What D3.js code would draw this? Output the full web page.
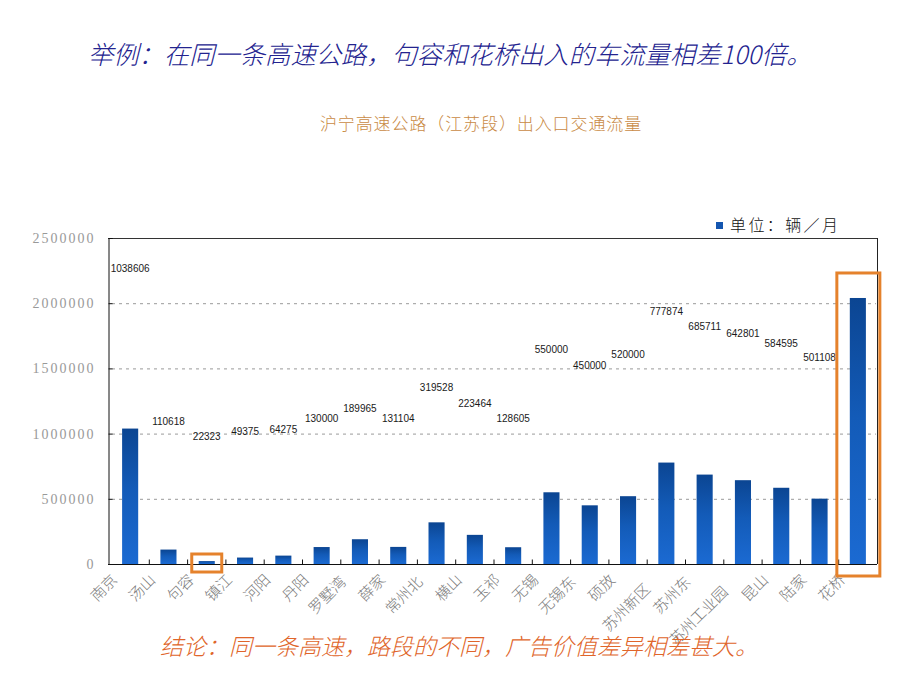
<!DOCTYPE html>
<html><head><meta charset="utf-8">
<script src="https://cdn.jsdelivr.net/npm/d3@7"></script>
<style>body{margin:0;background:#fff}svg{display:block}</style>
</head><body>
<svg id="c" width="920" height="690"></svg>
<script>
const categories = ["南京","汤山","句容","镇江","河阳","丹阳","罗墅湾","薛家","常州北","横山","玉祁","无锡","无锡东","硕放","苏州新区","苏州东","苏州工业园","昆山","陆家","花桥"];
const values = [1038606,110618,22323,49375,64275,130000,189965,131104,319528,223464,128605,550000,450000,520000,777874,685711,642801,584595,501108,2040000];
const dataLabels = ["1038606","110618","22323","49375","64275","130000","189965","131104","319528","223464","128605","550000","450000","520000","777874","685711","642801","584595","501108",""];
const yTicks = [0,500000,1000000,1500000,2000000,2500000];

const svg = d3.select("#c");
const cjk = "'Noto Sans CJK SC','Noto Sans',sans-serif";

const x = d3.scaleBand().domain(categories).range([111,877]).paddingInner(0.58).paddingOuter(0.29);
const y = d3.scaleLinear().domain([0,2500000]).range([564,238]);
const yLab = d3.scaleLinear().domain([0,1000000]).range([440,275]);

const defs = svg.append("defs");
const g = defs.append("linearGradient").attr("id","barG").attr("x1",0).attr("y1",0).attr("x2",0).attr("y2",1);
g.append("stop").attr("offset","0%").attr("stop-color","#0b4592");
g.append("stop").attr("offset","45%").attr("stop-color","#135bb8");
g.append("stop").attr("offset","100%").attr("stop-color","#1b6ad2");

// titles
svg.append("text").attr("x",88).attr("y",64).attr("font-family",cjk).attr("font-size",25.3).attr("font-weight",300)
  .attr("font-style","italic").attr("fill","#23238f").text("举例：在同一条高速公路，句容和花桥出入的车流量相差100倍。");
svg.append("text").attr("x",481).attr("y",130).attr("text-anchor","middle").attr("font-family",cjk).attr("font-weight",300)
  .attr("font-size",17).attr("letter-spacing","0.9px").attr("fill","#c98a44").text("沪宁高速公路（江苏段）出入口交通流量");

// gridlines
svg.append("g").selectAll("line").data(yTicks.filter(d=>d>0 && d<2500000)).join("line")
  .attr("x1",112).attr("x2",876).attr("y1",d=>y(d)+0.5).attr("y2",d=>y(d)+0.5)
  .attr("stroke","#9a9a9a").attr("stroke-dasharray","3,4");

// top and right border
svg.append("line").attr("x1",108).attr("x2",877).attr("y1",y(2500000)+0.5).attr("y2",y(2500000)+0.5).attr("stroke","#333");
svg.append("line").attr("x1",877.5).attr("x2",877.5).attr("y1",y(2500000)).attr("y2",y(0)).attr("stroke","#222");

// y axis
const yAxis = svg.append("g").attr("transform","translate(108.5,0)")
  .call(d3.axisLeft(y).tickValues(yTicks).tickSize(-4).tickPadding(13).tickFormat(d3.format("d")));
yAxis.select(".domain").attr("stroke","#111");
yAxis.selectAll(".tick line").attr("stroke","#111");
yAxis.selectAll("text").attr("font-family","'Liberation Serif','DejaVu Serif',serif").attr("font-size",14)
  .attr("fill","#999").attr("letter-spacing","2px");

// bars
svg.append("g").selectAll("rect").data(categories).join("rect")
  .attr("x",(d)=>x(d)).attr("width",x.bandwidth())
  .attr("y",(d,i)=>y(values[i])).attr("height",(d,i)=>y(0)-y(values[i]))
  .attr("fill","url(#barG)");

// x axis
const step = x.step();
const xAxis = svg.append("g").attr("transform",`translate(0,${y(0)+0.5})`);
xAxis.append("line").attr("x1",108).attr("x2",877).attr("stroke","#111");
xAxis.selectAll("line.t").data(categories.slice(0,-1)).join("line").attr("class","t")
  .attr("x1",d=>x(d)+x.bandwidth()/2+step/2).attr("x2",d=>x(d)+x.bandwidth()/2+step/2)
  .attr("y1",0).attr("y2",-5).attr("stroke","#111");

// x labels (rotated; longer labels sit lower, as in the source)
const drop = {2:0,3:2,4:9,5:12};
const shiftX = {2:12,3:13,4:15,5:14};
svg.append("g").selectAll("text").data(categories).join("text")
  .attr("transform",d=>{
    const cx = x(d)+x.bandwidth()/2;
    return `translate(${cx-shiftX[d.length]},${y(0)+17+drop[d.length]}) rotate(-45)`;
  })
  .attr("text-anchor","end").attr("font-family",cjk).attr("font-size",15).attr("font-weight",300)
  .attr("fill","#7a7a7a").text(d=>d);

// data labels
svg.append("g").selectAll("text").data(categories).join("text")
  .attr("x",d=>x(d)+x.bandwidth()/2).attr("y",(d,i)=>yLab(values[i]))
  .attr("dy","0.35em").attr("text-anchor","middle")
  .attr("font-family","'Liberation Sans',Arial,sans-serif").attr("font-size",10).attr("fill","#1a1a1a")
  .text((d,i)=>dataLabels[i]);

// legend
svg.append("rect").attr("x",716).attr("y",222).attr("width",7).attr("height",7).attr("fill","#1456b0");
svg.append("text").attr("x",730).attr("y",231).attr("font-family",cjk).attr("font-size",16).attr("font-weight",300)
  .attr("letter-spacing","2.4px").attr("fill","#111").text("单位：辆／月");

// highlight boxes
const hb = svg.append("g").attr("fill","none").attr("stroke","#e5822c").attr("stroke-width",3);
const c1 = x("句容")+x.bandwidth()/2;
hb.append("rect").attr("x",c1-15).attr("y",y(0)-10).attr("width",30).attr("height",18);
const c2 = x("花桥")+x.bandwidth()/2;
const v2 = values[categories.indexOf("花桥")];
hb.append("rect").attr("x",c2-21).attr("y",y(v2)-25).attr("width",43).attr("height",y(0)+12-(y(v2)-25));

// conclusion
svg.append("text").attr("x",160).attr("y",655).attr("font-family",cjk).attr("font-size",23).attr("font-weight",300)
  .attr("font-style","italic").attr("fill","#e0652a").text("结论：同一条高速，路段的不同，广告价值差异相差甚大。");
</script>
</body></html>
